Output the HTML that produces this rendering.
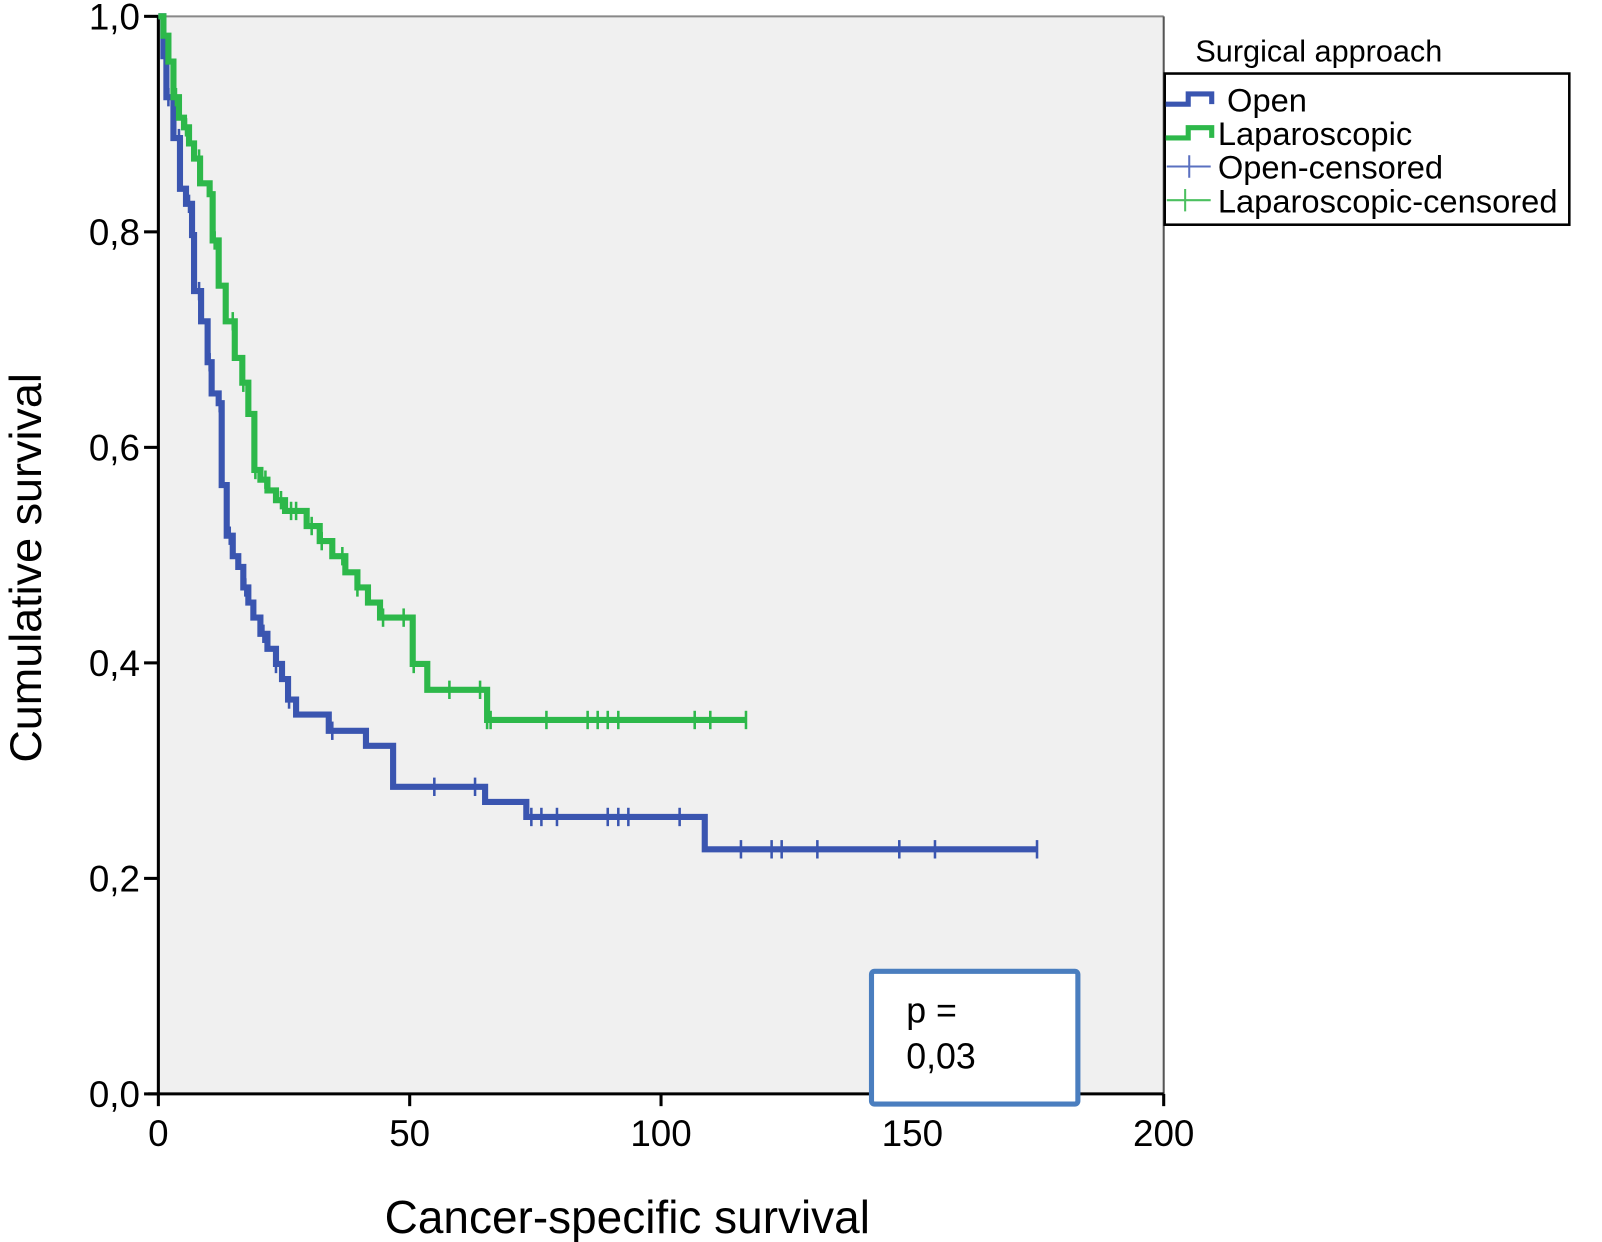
<!DOCTYPE html>
<html><head><meta charset="utf-8"><style>
html,body{margin:0;padding:0;background:#fff;}
svg{display:block;font-family:"Liberation Sans",Arial,sans-serif;}
</style></head><body>
<svg id="chart" width="1602" height="1242" viewBox="0 0 1568 1216" preserveAspectRatio="none">
<rect x="155" y="16" width="984" height="1055" fill="#f0f0f0"/>
<line x1="155" y1="16" x2="1139" y2="16" stroke="#888" stroke-width="2"/>
<line x1="1139" y1="16" x2="1139" y2="1071" stroke="#555" stroke-width="2"/>
<g id="axes"></g>
<g id="series"></g>
<text transform="translate(40,556) rotate(-90)" text-anchor="middle" font-size="44">Cumulative survival</text>
<text x="614" y="1207" text-anchor="middle" font-size="45">Cancer-specific survival</text>
<g>
<text x="1170" y="60" font-size="30">Surgical approach</text>
<rect x="1140" y="72" width="396" height="148" fill="#fff" stroke="#000" stroke-width="2.5"/>
<path d="M1141,102 H1163 V92 H1186 V102" fill="none" stroke="#3a55b0" stroke-width="5"/>
<text x="1201" y="109" font-size="32">Open</text>
<path d="M1141,135 H1163 V125 H1186 V135" fill="none" stroke="#2db84a" stroke-width="5"/>
<text x="1192" y="142" font-size="32">Laparoscopic</text>
<path d="M1142,163 H1185 M1164,152 V174" stroke="#5a70c0" stroke-width="2"/>
<text x="1192" y="175" font-size="32">Open-censored</text>
<path d="M1142,196 H1185 M1160,185 V207" stroke="#4cc060" stroke-width="2"/>
<text x="1192" y="208" font-size="32">Laparoscopic-censored</text>
</g>
<g>
<rect x="853" y="951" width="202" height="130" rx="3" fill="#fff" stroke="#4a7ebf" stroke-width="5"/>
<text x="887" y="1001" font-size="35">p =</text>
<text x="887" y="1046" font-size="35">0,03</text>
</g>
</svg>
<script>
const xTicks = [0, 50, 100, 150, 200];
const yTicks = [0, 0.2, 0.4, 0.6, 0.8, 1.0];
const yTickLabels = ["0,0", "0,2", "0,4", "0,6", "0,8", "1,0"];
const openTimes = [1.0,1.6,3.0,4.3,5.5,6.7,7.1,8.5,9.8,10.6,12.0,12.6,13.6,14.8,15.9,16.9,17.9,18.9,20.3,21.7,23.4,24.6,25.8,27.4,33.9,41.3,46.7,65.0,73.2,108.7];
const openSurv = [0.963,0.925,0.887,0.840,0.826,0.797,0.745,0.717,0.679,0.650,0.641,0.565,0.518,0.499,0.489,0.470,0.456,0.442,0.427,0.413,0.399,0.385,0.366,0.352,0.337,0.323,0.285,0.271,0.257,0.227];
const openEnd = 174.8;
const openCensored = [2.0,4.1,6.1,8.1,10.2,12.2,14.2,17.3,20.9,23.4,26.0,34.6,54.9,63.0,74.2,76.2,79.3,89.4,91.5,93.5,103.7,115.9,122.0,124.0,131.1,147.4,154.5,174.8];
const lapTimes = [1.0,2.0,3.0,4.1,5.1,6.1,7.1,8.3,10.2,10.8,12.0,13.4,15.2,16.7,17.9,19.1,20.3,21.7,23.4,25.2,29.5,32.1,34.6,37.2,39.6,41.7,44.1,50.6,53.5,65.4];
const lapSurv = [0.982,0.958,0.925,0.906,0.897,0.882,0.868,0.845,0.835,0.792,0.750,0.717,0.683,0.660,0.631,0.579,0.570,0.560,0.551,0.541,0.527,0.513,0.499,0.484,0.470,0.456,0.442,0.399,0.375,0.347];
const lapEnd = 116.9;
const lapCensored = [3.5,5.5,8.1,11.2,14.8,16.9,19.3,21.3,24.4,26.4,27.4,30.5,32.5,36.6,39.6,44.7,48.8,50.8,57.9,64.0,65.4,66.1,77.2,85.4,87.4,89.4,91.5,106.7,109.8,116.9];

const NS = "http://www.w3.org/2000/svg";
const X0 = 155, X1 = 1139, Y0 = 1071, Y1 = 16;
function xs(t){ return X0 + (t/200)*(X1-X0); }
function ys(s){ return Y0 - s*(Y0-Y1); }
function mk(tag, attrs, parent){ const e=document.createElementNS(NS,tag); for(const k in attrs) e.setAttribute(k,attrs[k]); parent.appendChild(e); return e; }
const axes=document.getElementById('axes');
const series=document.getElementById('series');

let a = mk('line',{x1:X0,y1:Y1,x2:X0,y2:Y0,stroke:'#000','stroke-width':3},axes);


a = mk('line',{x1:X0-10,y1:Y0,x2:X1,y2:Y0,stroke:'#000','stroke-width':3},axes);


yTicks.forEach((v,i)=>{
  const t=mk('line',{x1:X0-14,y1:ys(v),x2:X0,y2:ys(v),stroke:'#000','stroke-width':3},axes);
  
  
  const l=mk('text',{x:X0-18,y:ys(v)+13,'text-anchor':'end','font-size':36},axes);
  l.textContent=yTickLabels[i];
  
  
});
xTicks.forEach(v=>{
  const t=mk('line',{x1:xs(v),y1:Y0,x2:xs(v),y2:Y0+12,stroke:'#000','stroke-width':3},axes);
  
  
  const l=mk('text',{x:xs(v),y:Y0+51,'text-anchor':'middle','font-size':36},axes);
  l.textContent=String(v);
  
  
});
function stepAt(times,surv,t){ let s=1; for(let i=0;i<times.length;i++){ if(times[i]<=t) s=surv[i]; } return s; }
function drawSeries(times,surv,end,cens,color,tickColor,name){
  let d='M'+xs(0)+','+ys(1);
  for(let i=0;i<times.length;i++){ d+=' H'+xs(times[i])+' V'+ys(surv[i]); }
  d+=' H'+xs(end);
  const p=mk('path',{d:d,fill:'none',stroke:color,'stroke-width':6,'stroke-linejoin':'miter'},series);
  
  
  cens.forEach(t=>{
    const y=ys(stepAt(times,surv,t));
    const c=mk('line',{x1:xs(t),y1:y-9,x2:xs(t),y2:y+9,stroke:tickColor,'stroke-width':2.5},series);
    
    
  });
}
drawSeries(openTimes,openSurv,openEnd,openCensored,'#3a55b0','#3a55b0','open');
drawSeries(lapTimes,lapSurv,lapEnd,lapCensored,'#2db84a','#2db84a','laparoscopic');
</script>
</body></html>
